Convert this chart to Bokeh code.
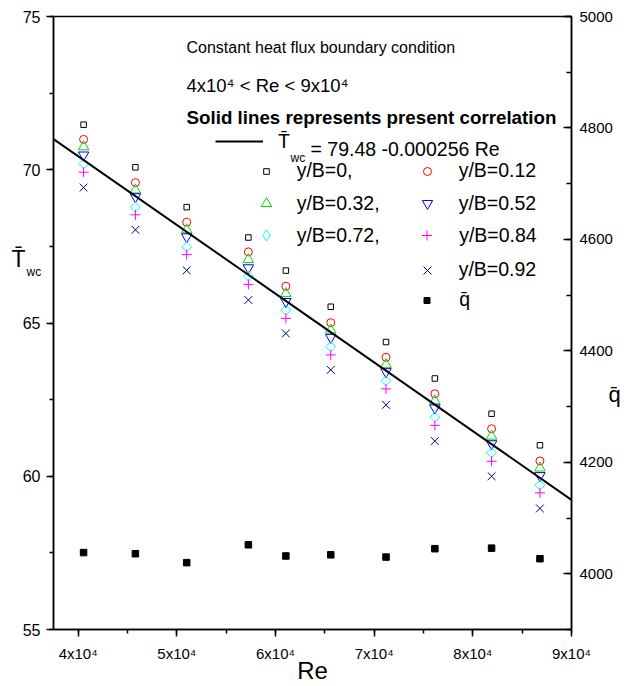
import math
from bokeh.plotting import figure
from bokeh.models import (Range1d, LinearAxis, SingleIntervalTicker, CustomJSTickFormatter,
                          Label, Legend, LegendItem)
from bokeh.embed import file_html
from bokeh.resources import INLINE

# ---------------- data ----------------
re_vals = [40550, 45800, 51000, 57250, 61050, 65600, 71200, 76150, 81900, 86800]
t_yb000 = [71.47, 70.08, 68.78, 67.79, 66.71, 65.53, 64.38, 63.19, 62.04, 61.01]
t_yb012 = [70.99, 69.58, 68.29, 67.32, 66.20, 65.01, 63.88, 62.69, 61.55, 60.50]
t_yb032 = [70.75, 69.34, 68.04, 67.07, 65.96, 64.77, 63.64, 62.46, 61.31, 60.27]
t_yb052 = [70.48, 69.12, 67.81, 66.80, 65.70, 64.53, 63.41, 62.23, 61.06, 60.02]
t_yb072 = [70.19, 68.78, 67.48, 66.53, 65.42, 64.23, 63.12, 61.93, 60.77, 59.71]
t_yb084 = [69.92, 68.53, 67.23, 66.26, 65.15, 63.96, 62.85, 61.66, 60.49, 59.46]
t_yb092 = [69.42, 68.04, 66.72, 65.75, 64.66, 63.47, 62.33, 61.15, 60.00, 58.95]
q_vals = [4038, 4036, 4020, 4052, 4032, 4034, 4030, 4045, 4046, 4027]
re_line = [37500, 90000]
t_line = [71.0, 59.23]

FONT = "Liberation Sans"
W, H = 628, 686
FL, FR, FT, FB = 53, 571, 16, 631

p = figure(width=W, height=H, output_backend="svg", toolbar_location=None,
           x_range=Range1d(37500, 90000), y_range=Range1d(55, 75),
           min_border_left=FL, min_border_right=W - FR, min_border_top=FT,
           min_border_bottom=H - FB)
p.extra_y_ranges = {"q": Range1d(3900, 5000)}
p.grid.visible = False
p.background_fill_color = "white"
p.border_fill_color = "white"
p.outline_line_color = "black"
p.outline_line_width = 1.5

# bottom axis
xa = p.xaxis[0]
xa.ticker = SingleIntervalTicker(interval=10000, num_minor_ticks=2)
xa.formatter = CustomJSTickFormatter(code="return (tick/10000).toFixed(0) + 'x10\u2074';")
xa.axis_label = "Re"
xa.axis_label_text_font = FONT
xa.axis_label_text_font_size = "24px"
xa.axis_label_text_font_style = "normal"
xa.axis_label_text_color = "black"
xa.axis_label_standoff = -8
# left axis
ya = p.yaxis[0]
ya.ticker = SingleIntervalTicker(interval=5, num_minor_ticks=2)
ra = LinearAxis(y_range_name="q", ticker=SingleIntervalTicker(interval=200, num_minor_ticks=2))
p.add_layout(ra, "right")

for ax in (xa, ya, ra):
    ax.axis_line_color = "black"
    ax.axis_line_width = 1.5
    ax.major_tick_line_color = "black"
    ax.minor_tick_line_color = "black"
    ax.major_tick_line_width = 1.5
    ax.minor_tick_line_width = 1.5
    ax.major_label_text_font = FONT
    ax.major_label_text_color = "black"
for ax in (xa, ya):
    ax.major_tick_out = 7
    ax.major_tick_in = 0
    ax.minor_tick_out = 4
    ax.minor_tick_in = 0
xa.major_label_text_font_size = "15px"
xa.major_label_standoff = 8
ya.major_label_text_font_size = "16px"
ya.major_label_standoff = 6
ra.major_tick_in = 8
ra.major_tick_out = 0
ra.minor_tick_in = 5
ra.minor_tick_out = 0
ra.major_label_text_font_size = "15px"
ra.major_label_standoff = 8

# ---------------- marks ----------------
r_sq = p.scatter(re_vals, t_yb000, marker="square", size=5.5, fill_color=None, line_color="black", line_width=1)
r_ci = p.scatter(re_vals, t_yb012, marker="circle", size=8, fill_color=None, line_color="red", line_width=1)
r_tr = p.scatter(re_vals, t_yb032, marker="triangle", size=10.5, fill_color=None, line_color="#00DD00", line_width=1)
r_it = p.scatter(re_vals, t_yb052, marker="inverted_triangle", size=10.5, fill_color=None, line_color="blue", line_width=1)
r_di = p.scatter(re_vals, t_yb072, marker="square", angle=math.pi / 4, size=7, fill_color=None, line_color="cyan", line_width=1)
r_pl = p.scatter(re_vals, t_yb084, marker="cross", size=10, line_color="magenta", line_width=1)
r_x = p.scatter(re_vals, t_yb092, marker="x", size=11, line_color="navy", line_width=1)
r_q = p.scatter(re_vals, q_vals, marker="square", size=6.5, fill_color="black", line_color="black", y_range_name="q")
r_line = p.line(re_line, t_line, line_color="black", line_width=2)
# legend key for the diamond series (the legend draws markers unrotated); NaN => nothing plotted
r_di_leg = p.scatter([math.nan], [math.nan], marker="diamond", size=10, fill_color=None,
                     line_color="cyan", line_width=1)


def leg(renderer, label, cx, cy, size, text_x, font_size="19.5px", gw=None, gh=28):
    if gw is None:
        gw = int(round(size / 0.4))
    left = cx - gw / 2
    bottom = cy + gh / 2
    L = Legend(items=[LegendItem(label=label, renderers=[renderer])],
               location=(left - FL, FB - bottom), glyph_width=gw, glyph_height=gh,
               label_height=gh, label_standoff=int(round(text_x - left - gw)),
               padding=0, margin=0, spacing=0, border_line_alpha=0,
               background_fill_alpha=0, label_text_font=FONT,
               label_text_font_size=font_size, label_text_color="black")
    p.add_layout(L, "center")


leg(r_line, "T\u0304", 239, 143, 0, 278, gw=48)
leg(r_sq, "y/B=0,", 265.7, 172.7, 5.5, 297)
leg(r_tr, "y/B=0.32,", 265.7, 205, 10.4, 297)
leg(r_di_leg, "y/B=0.72,", 265.7, 237.3, 11.2, 297)
leg(r_ci, "y/B=0.12", 426.7, 172.7, 8, 459)
leg(r_it, "y/B=0.52", 426.7, 205, 10.4, 459)
leg(r_pl, "y/B=0.84", 426.7, 237.3, 10, 459)
leg(r_x, "y/B=0.92", 426.7, 271.7, 11.2, 459)
leg(r_q, "q\u0304", 426.7, 301.7, 6, 459)


def txt(text, x, y, size, bold=False, align="left", place="center"):
    lab = Label(x=x, y=y, x_units="screen", y_units="screen", text=text,
                text_font=FONT, text_font_size=size,
                text_font_style="bold" if bold else "normal",
                text_align=align, text_baseline="alphabetic", text_color="black")
    if place == "center":
        p.add_layout(lab)
    else:
        p.add_layout(lab, place)


def ctxt(text, px, py, size, bold=False):
    txt(text, px - FL, FB - py, size, bold=bold)


ctxt("Constant heat flux boundary condition", 186, 49, "16px")
ctxt("4x10\u2074 < Re < 9x10\u2074", 186, 87, "18.5px")
ctxt("Solid lines represents present correlation", 186, 119, "18.75px", bold=True)
ctxt("wc", 290, 159, "12px")
ctxt("= 79.48 -0.000256 Re", 310, 150.7, "19.5px")

# labels outside the frame live in side panels (not clipped)
txt("T\u0304", 6, FB - 260, "23px", place="left")
txt("wc", 26 - FL, FT - 271, "12px", place="above")
txt("q\u0304", -7, FB - 396, "22px", place="right")

open("out.html", "w").write(file_html(p, INLINE))
